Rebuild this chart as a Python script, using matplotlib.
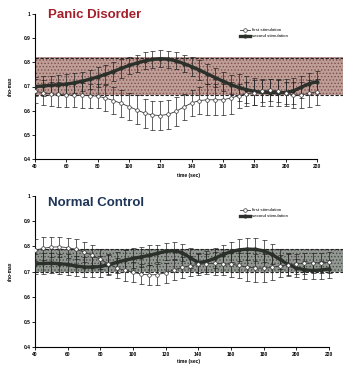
import matplotlib
matplotlib.use("Agg")
import matplotlib.pyplot as plt
import numpy as np

plt.rcParams['font.family'] = ['Liberation Sans', 'DejaVu Sans']
plt.rcParams['hatch.linewidth'] = 0.6

time = list(range(40, 221, 5))

# Panic Disorder
pd_first = [0.680, 0.675, 0.670, 0.667, 0.665, 0.664, 0.663, 0.662, 0.660, 0.652,
            0.642, 0.630, 0.617, 0.603, 0.590, 0.582, 0.580, 0.585, 0.597, 0.615,
            0.632, 0.642, 0.645, 0.645, 0.645, 0.652, 0.662, 0.670, 0.675, 0.682,
            0.686, 0.682, 0.672, 0.665, 0.665, 0.672, 0.678]
pd_first_err = [0.050, 0.050, 0.050, 0.050, 0.050, 0.050, 0.050, 0.050, 0.050, 0.055,
                0.055, 0.055, 0.055, 0.060, 0.060, 0.060, 0.060, 0.060, 0.060, 0.055,
                0.055, 0.055, 0.065, 0.065, 0.065, 0.065, 0.050, 0.050, 0.050, 0.045,
                0.045, 0.045, 0.045, 0.055, 0.055, 0.055, 0.055]
pd_second = [0.700, 0.702, 0.705, 0.707, 0.710, 0.715, 0.722, 0.730, 0.740, 0.750,
             0.762, 0.775, 0.787, 0.797, 0.806, 0.812, 0.815, 0.813, 0.806, 0.795,
             0.782, 0.768, 0.752, 0.737, 0.722, 0.708, 0.696, 0.687, 0.680, 0.676,
             0.675, 0.674, 0.675, 0.682, 0.697, 0.712, 0.720]
pd_second_err = [0.040, 0.040, 0.040, 0.040, 0.040, 0.040, 0.040, 0.040, 0.040, 0.040,
                 0.040, 0.040, 0.035, 0.035, 0.035, 0.035, 0.035, 0.035, 0.035, 0.035,
                 0.040, 0.040, 0.040, 0.040, 0.040, 0.040, 0.055, 0.055, 0.055, 0.055,
                 0.055, 0.055, 0.055, 0.055, 0.045, 0.045, 0.045]
pd_band = [0.663, 0.820]

# Normal Control
nc_first = [0.785, 0.792, 0.797, 0.798, 0.795, 0.788, 0.778, 0.765, 0.748, 0.730,
            0.715, 0.704, 0.697, 0.690, 0.686, 0.688, 0.695, 0.706, 0.716, 0.723,
            0.728, 0.731, 0.732, 0.731, 0.729, 0.724, 0.718, 0.714, 0.713, 0.716,
            0.722, 0.727, 0.730, 0.732, 0.734, 0.735, 0.736]
nc_first_err = [0.045, 0.045, 0.040, 0.040, 0.040, 0.040, 0.040, 0.040, 0.040, 0.040,
                0.040, 0.040, 0.040, 0.040, 0.040, 0.040, 0.040, 0.040, 0.040, 0.040,
                0.040, 0.040, 0.045, 0.045, 0.050, 0.050, 0.055, 0.055, 0.055, 0.050,
                0.045, 0.045, 0.040, 0.040, 0.040, 0.040, 0.040]
nc_second = [0.730, 0.732, 0.733, 0.731, 0.728, 0.722, 0.718, 0.717, 0.720, 0.727,
             0.736, 0.745, 0.752, 0.758, 0.764, 0.772, 0.780, 0.783, 0.775, 0.755,
             0.735, 0.740, 0.752, 0.767, 0.779, 0.786, 0.789, 0.788, 0.782, 0.768,
             0.748, 0.728, 0.714, 0.707, 0.704, 0.706, 0.710]
nc_second_err = [0.040, 0.040, 0.040, 0.040, 0.040, 0.040, 0.040, 0.040, 0.040, 0.040,
                 0.040, 0.040, 0.040, 0.040, 0.040, 0.035, 0.035, 0.035, 0.035, 0.040,
                 0.040, 0.040, 0.040, 0.040, 0.040, 0.045, 0.045, 0.045, 0.045, 0.040,
                 0.040, 0.040, 0.035, 0.035, 0.035, 0.035, 0.035]
nc_band = [0.700, 0.790]

yticks = [0.4, 0.5, 0.6, 0.7, 0.8, 0.9, 1.0]
ytick_labels = ['0.4', '0.5', '0.6', '0.7', '0.8', '0.9', '1']
xticks = [40, 60, 80, 100, 120, 140, 160, 180, 200, 220]
xtick_labels = [str(v) for v in xticks]

W, H = 343, 366
fig = plt.figure(figsize=(W / 100, H / 100), dpi=100)


def panel(rect, xmax, first, first_err, second, second_err, band,
          band_face, band_hatch, title, title_color, title_y, leg_y, xlabelpad):
    ax = fig.add_axes(rect)
    ax.set_xlim(40, xmax)
    ax.set_ylim(0.4, 1.0)
    for s in ['top', 'right']:
        ax.spines[s].set_visible(False)
    ax.spines['bottom'].set_bounds(40, 220)
    ax.spines['left'].set_linewidth(0.8)
    ax.spines['bottom'].set_linewidth(0.8)
    ax.set_xticks(xticks)
    ax.set_xticklabels(xtick_labels)
    ax.set_yticks(yticks)
    ax.set_yticklabels(ytick_labels)
    ax.tick_params(labelsize=3.5, length=2, width=0.6, pad=1.5)
    for lab in ax.get_xticklabels() + ax.get_yticklabels():
        lab.set_fontweight('bold')
    ax.set_xlabel('time (sec)', fontsize=3.5, fontweight='bold', labelpad=xlabelpad)
    ax.set_ylabel('rho-max', fontsize=3.5, fontweight='bold', labelpad=8)

    ax.axhspan(band[0], band[1], facecolor=band_face, edgecolor=band_hatch,
               hatch='.....', linewidth=0, zorder=1)
    ax.axhline(band[0], color='#222222', lw=0.8, ls=(0, (3, 1.5)), zorder=2)
    ax.axhline(band[1], color='#222222', lw=0.8, ls=(0, (3, 1.5)), zorder=2)

    ax.errorbar(time, first, yerr=first_err, fmt='none', ecolor='#222222',
                elinewidth=0.5, capsize=1.8, capthick=0.5, zorder=3)
    ax.errorbar(time, second, yerr=second_err, fmt='none', ecolor='#222222',
                elinewidth=0.5, capsize=1.8, capthick=0.5, zorder=3)
    l1, = ax.plot(time, first, color='#333333', lw=0.6, marker='o', ms=2.6,
                  mfc='white', mec='#333333', mew=0.5, zorder=5,
                  label='first stimulation')
    l2, = ax.plot(time, second, color='#2b302b', lw=2.4, marker='o', ms=2.0,
                  mfc='#2b302b', mec='#2b302b', zorder=4,
                  label='second stimulation')

    fig.text(48 / W, 1 - title_y / H, title, fontsize=9.5, fontweight='bold',
             color=title_color, va='center', ha='left')
    fig.legend(handles=[l1, l2], loc='upper left',
               bbox_to_anchor=(238 / W, 1 - leg_y / H),
               fontsize=3.2, frameon=False, handlelength=2.2,
               handletextpad=0.5, labelspacing=0.4, borderpad=0)
    return ax


panel([35 / W, 1 - 159 / H, 1 - 35 / W, (159 - 14) / H], 236.6,
      pd_first, pd_first_err, pd_second, pd_second_err, pd_band,
      '#bf9e98', '#7d4f4b', 'Panic Disorder', '#a3202a', 15, 26, 3)

panel([35 / W, 1 - 347 / H, 1 - 35 / W, (347 - 196) / H], 228.6,
      nc_first, nc_first_err, nc_second, nc_second_err, nc_band,
      '#939892', '#454b45', 'Normal Control', '#1e3558', 203, 206, 1.5)

fig.savefig('out.png', dpi=100)
